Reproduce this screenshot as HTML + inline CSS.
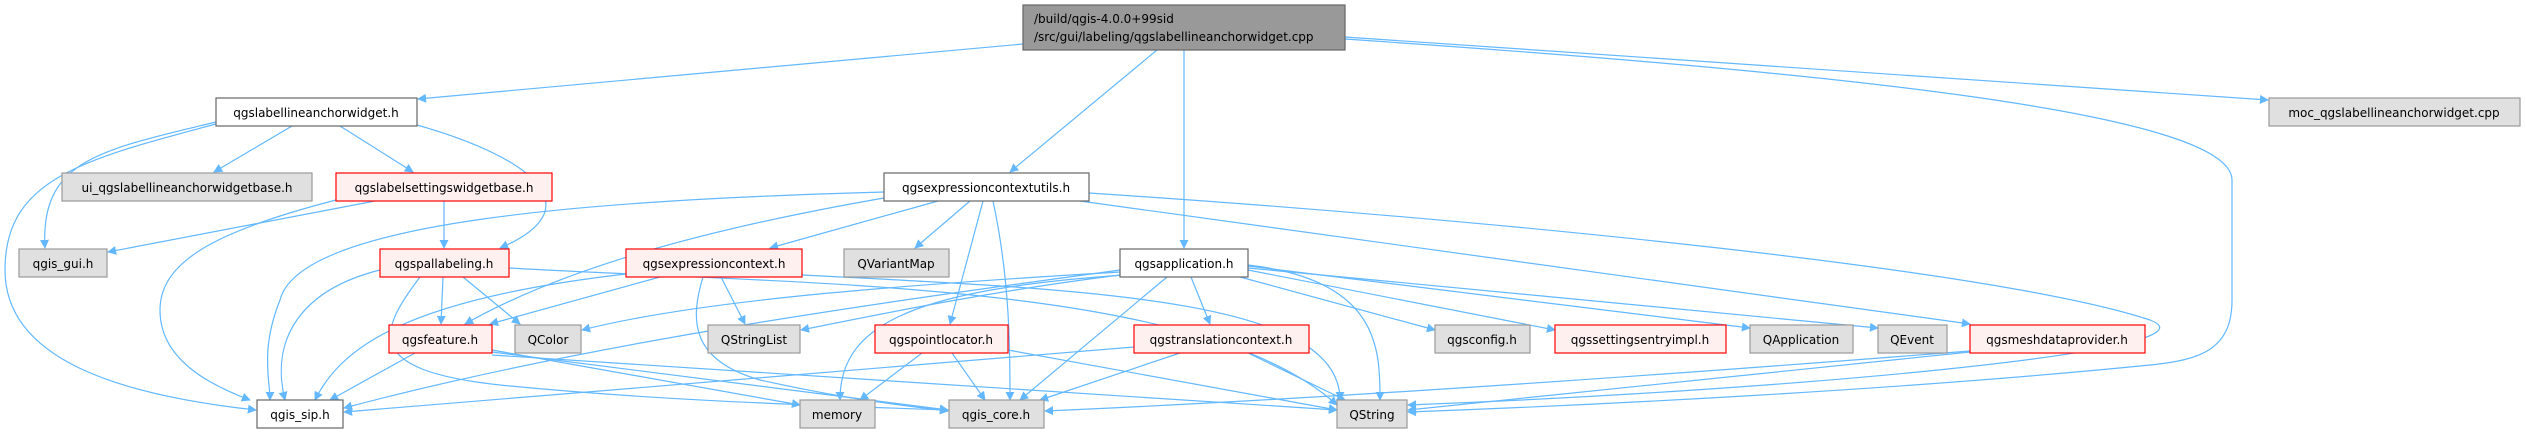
<!DOCTYPE html>
<html><head><meta charset="utf-8"><style>
html,body{margin:0;padding:0;background:#fff;}
svg{display:block}
text{font-family:"DejaVu Sans","Liberation Sans",sans-serif;font-size:12px;fill:#000;text-anchor:middle;}
.e{fill:none;stroke:#63b8ff;stroke-width:1.2;marker-end:url(#a)}
.w{fill:#fff;stroke:#666;stroke-width:1.2}
.r{fill:#fff0f0;stroke:#ff0000;stroke-width:1.2}
.g{fill:#e0e0e0;stroke:#999;stroke-width:1.2}
</style></head><body>
<svg width="2526" height="434" viewBox="0 0 2526 434" xmlns="http://www.w3.org/2000/svg">
<defs><marker id="a" viewBox="0 0 10 10" refX="9" refY="5" markerWidth="9" markerHeight="9" orient="auto" markerUnits="userSpaceOnUse"><path d="M0,0 L10,5 L0,10 z" fill="#63b8ff"/></marker></defs>
<!-- edges -->
<path class="e" d="M1023,44 L418,99"/>
<path class="e" d="M1157,50 L1010,172"/>
<path class="e" d="M1184,50 L1184,248"/>
<path class="e" d="M1345,37 L2268,100"/>
<path class="e" d="M1345,39 C1800,70 2232,110 2232,180 L2232,300 C2232,350 2200,360 2150,365 C1900,390 1600,405 1408,412"/>
<path class="e" d="M292,126 L214,172"/>
<path class="e" d="M340,126 L413,172"/>
<path class="e" d="M216,122 C100,150 40,160 45,248"/>
<path class="e" d="M216,124 C80,160 5,180 5,270 C5,360 120,395 256,410"/>
<path class="e" d="M417,125 C540,160 590,210 500,248"/>
<path class="e" d="M375,201 L108,252"/>
<path class="e" d="M444,201 L444,248"/>
<path class="e" d="M336,200 C220,230 160,260 160,310 C160,360 210,385 250,400"/>
<path class="e" d="M380,270 C300,290 270,340 285,400"/>
<path class="e" d="M443,277 L441,324"/>
<path class="e" d="M463,277 L520,324"/>
<path class="e" d="M420,277 C380,330 360,370 500,385 C650,400 800,405 948,410"/>
<path class="e" d="M509,268 C800,285 1200,280 1337,405"/>
<path class="e" d="M626,274 C400,300 340,350 315,400"/>
<path class="e" d="M660,277 L490,324"/>
<path class="e" d="M721,277 L745,324"/>
<path class="e" d="M703,277 C690,320 690,360 760,380 C850,400 900,405 948,411"/>
<path class="e" d="M802,275 C1100,290 1340,300 1340,400"/>
<path class="e" d="M884,192 C600,200 300,220 280,300 C260,350 270,380 270,400"/>
<path class="e" d="M884,198 C700,230 560,270 465,324"/>
<path class="e" d="M938,201 L770,248"/>
<path class="e" d="M970,201 L915,248"/>
<path class="e" d="M983,201 L950,324"/>
<path class="e" d="M993,201 C1010,280 1010,350 1010,400"/>
<path class="e" d="M1089,193 C1500,220 2000,270 2150,320 C2230,350 1800,390 1408,405"/>
<path class="e" d="M1080,201 L1970,324"/>
<path class="e" d="M1120,270 C900,300 600,340 344,408"/>
<path class="e" d="M1120,272 C900,285 700,300 582,330"/>
<path class="e" d="M1120,275 C1000,290 900,310 801,330"/>
<path class="e" d="M1125,275 C900,290 840,330 840,400"/>
<path class="e" d="M1167,277 L1020,400"/>
<path class="e" d="M1191,277 L1210,324"/>
<path class="e" d="M1240,277 L1435,330"/>
<path class="e" d="M1248,270 L1555,330"/>
<path class="e" d="M1248,266 L1750,328"/>
<path class="e" d="M1248,268 L1878,328"/>
<path class="e" d="M1248,265 C1380,280 1380,350 1380,400"/>
<path class="e" d="M415,353 L330,400"/>
<path class="e" d="M492,350 L800,405"/>
<path class="e" d="M492,352 L948,410"/>
<path class="e" d="M492,355 L1337,410"/>
<path class="e" d="M922,353 L860,400"/>
<path class="e" d="M952,353 L985,400"/>
<path class="e" d="M1008,350 L1337,410"/>
<path class="e" d="M1134,347 L344,412"/>
<path class="e" d="M1180,353 L1040,400"/>
<path class="e" d="M1248,353 L1345,400"/>
<path class="e" d="M1970,351 C1600,380 1300,400 1045,411"/>
<path class="e" d="M1970,352 L1408,410"/>
<!-- nodes -->
<rect x="1023" y="5" width="322" height="45" fill="#999" stroke="#666" stroke-width="1.2"/>
<text x="1034" y="23" style="text-anchor:start">/build/qgis-4.0.0+99sid</text>
<text x="1034" y="41" style="text-anchor:start">/src/gui/labeling/qgslabellineanchorwidget.cpp</text>
<rect class="w" x="216" y="98" width="201" height="28"/><text x="316" y="117">qgslabellineanchorwidget.h</text>
<rect class="g" x="2269" y="98" width="251" height="28"/><text x="2394" y="117">moc_qgslabellineanchorwidget.cpp</text>
<rect class="g" x="62" y="173" width="250" height="28"/><text x="187" y="192">ui_qgslabellineanchorwidgetbase.h</text>
<rect class="r" x="336" y="173" width="216" height="28"/><text x="444" y="192">qgslabelsettingswidgetbase.h</text>
<rect class="w" x="884" y="173" width="205" height="28"/><text x="986" y="192">qgsexpressioncontextutils.h</text>
<rect class="g" x="19" y="249" width="88" height="28"/><text x="63" y="268">qgis_gui.h</text>
<rect class="r" x="380" y="249" width="129" height="28"/><text x="444" y="268">qgspallabeling.h</text>
<rect class="r" x="626" y="249" width="176" height="28"/><text x="714" y="268">qgsexpressioncontext.h</text>
<rect class="g" x="844" y="249" width="105" height="28"/><text x="896" y="268">QVariantMap</text>
<rect class="w" x="1120" y="249" width="128" height="28"/><text x="1184" y="268">qgsapplication.h</text>
<rect class="r" x="389" y="325" width="103" height="28"/><text x="440" y="344">qgsfeature.h</text>
<rect class="g" x="515" y="325" width="66" height="28"/><text x="548" y="344">QColor</text>
<rect class="g" x="708" y="325" width="92" height="28"/><text x="754" y="344">QStringList</text>
<rect class="r" x="875" y="325" width="133" height="28"/><text x="941" y="344">qgspointlocator.h</text>
<rect class="r" x="1134" y="325" width="175" height="28"/><text x="1221" y="344">qgstranslationcontext.h</text>
<rect class="g" x="1435" y="325" width="95" height="28"/><text x="1482" y="344">qgsconfig.h</text>
<rect class="r" x="1555" y="325" width="171" height="28"/><text x="1640" y="344">qgssettingsentryimpl.h</text>
<rect class="g" x="1750" y="325" width="103" height="28"/><text x="1801" y="344">QApplication</text>
<rect class="g" x="1878" y="325" width="69" height="28"/><text x="1912" y="344">QEvent</text>
<rect class="r" x="1970" y="325" width="175" height="28"/><text x="2057" y="344">qgsmeshdataprovider.h</text>
<rect class="w" x="257" y="400" width="86" height="28"/><text x="300" y="419">qgis_sip.h</text>
<rect class="g" x="800" y="400" width="75" height="28"/><text x="837" y="419">memory</text>
<rect class="g" x="949" y="400" width="95" height="28"/><text x="996" y="419">qgis_core.h</text>
<rect class="g" x="1337" y="400" width="70" height="28"/><text x="1372" y="419">QString</text>
</svg>
</body></html>
